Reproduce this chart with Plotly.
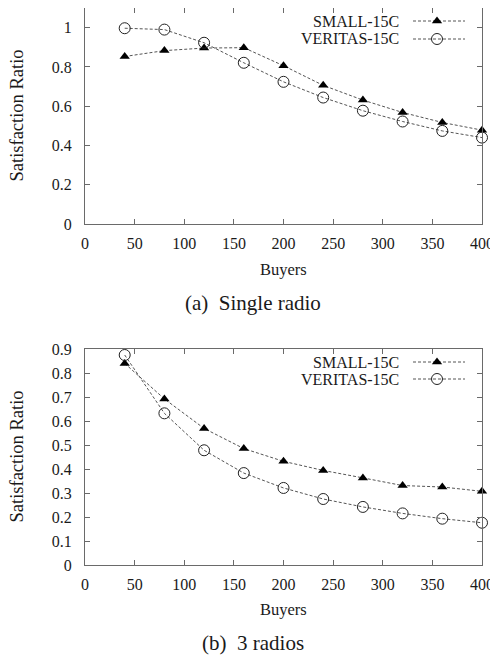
import plotly.graph_objects as go

buyers = [40, 80, 120, 160, 200, 240, 280, 320, 360, 400]

# (a) Single radio
small_single = [0.853, 0.883, 0.896, 0.898, 0.806, 0.706, 0.631, 0.568, 0.517, 0.478]
veritas_single = [0.997, 0.990, 0.923, 0.821, 0.724, 0.644, 0.577, 0.522, 0.474, 0.440]

# (b) 3 radios
small_three = [0.840, 0.692, 0.569, 0.485, 0.432, 0.394, 0.363, 0.331, 0.325, 0.307]
veritas_three = [0.875, 0.632, 0.478, 0.383, 0.321, 0.275, 0.242, 0.215, 0.193, 0.176]

x_ticks = [0, 50, 100, 150, 200, 250, 300, 350, 400]
y_ticks_a = [0, 0.2, 0.4, 0.6, 0.8, 1]
y_ticks_a_text = ["0", "0.2", "0.4", "0.6", "0.8", "1"]
y_ticks_b = [0, 0.1, 0.2, 0.3, 0.4, 0.5, 0.6, 0.7, 0.8, 0.9]
y_ticks_b_text = ["0", "0.1", "0.2", "0.3", "0.4", "0.5", "0.6", "0.7", "0.8", "0.9"]

series_names = ["SMALL-15C", "VERITAS-15C"]
captions = ["(a)\u00a0 Single radio", "(b)\u00a0 3 radios"]

FONT = "Liberation Serif, Times New Roman, serif"
TXT = "#1a1a1a"
LINE_COLOR = "#555555"
FRAME = "#6a6a6a"
DASH = "3px,2px"

# page (window) pixel geometry; page body has an 8px margin, so the figure is shifted
OFF = 8
WIN_W, WIN_H = 498, 657
W, H = WIN_W - OFF, WIN_H - OFF
LEFT, RIGHT = 85, 482
TOP_A, BOT_A = 8, 224
TOP_B, BOT_B = 349, 565
ML = LEFT - OFF
MT = TOP_A - OFF
MR = W - (RIGHT - OFF)
MB = H - (BOT_B - OFF)
PW = W - ML - MR
PH = H - MT - MB

def px_x(px):
    return (px - OFF - ML) / PW

def px_y(py):
    return ((H - MB) - (py - OFF)) / PH

dom_a = [px_y(BOT_A), px_y(TOP_A)]
dom_b = [px_y(BOT_B), px_y(TOP_B)]

fig = go.Figure()

tri = dict(symbol="triangle-up", size=9, color="black", line=dict(width=0))
circ = dict(symbol="circle-open", size=11, color="#222222", line=dict(width=1))
ln = dict(color=LINE_COLOR, width=1, dash=DASH)

for ys_s, ys_v, xa, ya in [(small_single, veritas_single, "x", "y"),
                           (small_three, veritas_three, "x2", "y2")]:
    fig.add_trace(go.Scatter(x=buyers, y=ys_s, mode="lines+markers", line=ln, marker=tri,
                             xaxis=xa, yaxis=ya, cliponaxis=False, showlegend=False))
    fig.add_trace(go.Scatter(x=buyers, y=ys_v, mode="lines+markers", line=ln, marker=circ,
                             xaxis=xa, yaxis=ya, cliponaxis=False, showlegend=False))

# legend samples drawn on a pixel-coordinate helper subplot (page pixels)
leg_rows = [(21, 39), (362, 379)]
for (r1, r2) in leg_rows:
    for ry, mk in [(r1, tri), (r2, circ)]:
        fig.add_trace(go.Scatter(x=[413, 465], y=[ry, ry], mode="lines", line=ln,
                                 xaxis="x3", yaxis="y3", showlegend=False, cliponaxis=False))
        fig.add_trace(go.Scatter(x=[437], y=[ry], mode="markers", marker=mk,
                                 xaxis="x3", yaxis="y3", showlegend=False, cliponaxis=False))
    for ry, name in zip((r1, r2), series_names):
        fig.add_annotation(x=px_x(401), y=px_y(ry), xref="paper", yref="paper", text=name,
                           showarrow=False, xanchor="right", yanchor="middle",
                           font=dict(family=FONT, size=16, color=TXT))

axis_common = dict(showline=True, linecolor=FRAME, linewidth=1, mirror="ticks", ticks="inside",
                   ticklen=5, tickcolor=FRAME, showgrid=False, zeroline=False,
                   tickfont=dict(family=FONT, size=16, color=TXT))

fig.update_layout(
    width=W, height=H, margin=dict(l=ML, r=MR, t=MT, b=MB, autoexpand=False),
    plot_bgcolor="rgba(0,0,0,0)", paper_bgcolor="white",
    font=dict(family=FONT, color=TXT),
    xaxis=dict(range=[0, 400], tickvals=x_ticks, anchor="y", domain=[0, 1], ticklabelstandoff=5, **axis_common),
    yaxis=dict(range=[0, 1.1], tickvals=y_ticks_a, ticktext=y_ticks_a_text, anchor="x", domain=dom_a,
               ticklabelstandoff=9, **axis_common),
    xaxis2=dict(range=[0, 400], tickvals=x_ticks, anchor="y2", domain=[0, 1], ticklabelstandoff=5, **axis_common),
    yaxis2=dict(range=[0, 0.9], tickvals=y_ticks_b, ticktext=y_ticks_b_text, anchor="x2", domain=dom_b,
                ticklabelstandoff=9, **axis_common),
    xaxis3=dict(range=[LEFT, RIGHT], domain=[0, 1], visible=False, anchor="y3", fixedrange=True),
    yaxis3=dict(range=[BOT_B, TOP_A], domain=[0, 1], visible=False, anchor="x3", fixedrange=True),
)

# axis titles and captions, placed by page pixels
for ytitle_c, buyers_y, cap_y, cap in [((TOP_A + BOT_A) / 2, 269, 303, captions[0]),
                                       ((TOP_B + BOT_B) / 2, 609, 643, captions[1])]:
    fig.add_annotation(x=px_x(16.5), y=px_y(ytitle_c), xref="paper", yref="paper",
                       text="Satisfaction Ratio", textangle=-90, showarrow=False,
                       xanchor="center", yanchor="middle",
                       font=dict(family=FONT, size=18.5, color=TXT))
    fig.add_annotation(x=px_x(283.5), y=px_y(buyers_y), xref="paper", yref="paper", text="Buyers",
                       showarrow=False, xanchor="center", yanchor="middle",
                       font=dict(family=FONT, size=16.5, color=TXT))
    fig.add_annotation(x=px_x(253), y=px_y(cap_y), xref="paper", yref="paper", text=cap,
                       showarrow=False, xanchor="center", yanchor="middle",
                       font=dict(family=FONT, size=21, color=TXT))

fig.write_html("out.html")
